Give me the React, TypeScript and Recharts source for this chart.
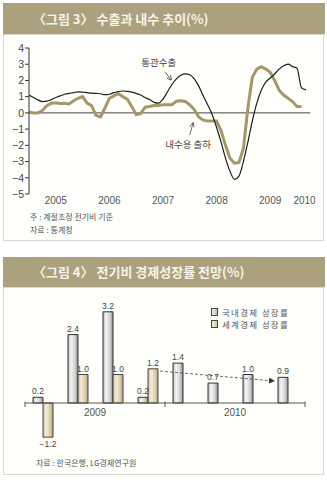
import React from 'react';
import {
  LineChart, Line, XAxis, YAxis, ReferenceLine, ReferenceDot,
  BarChart, Bar, LabelList, Legend,
} from 'recharts';

// ---------- Figure 3 data (monthly, Jan 2005 onward) ----------
const startYear = 2005;
const exportsSeries = [
  1.1, 0.95, 0.8, 0.7, 0.72, 0.82, 0.95, 1.05, 1.15, 1.2, 1.25, 1.3,
  1.28, 1.25, 1.22, 1.2, 1.18, 1.12, 1.15, 1.25, 1.32, 1.35, 1.33, 1.28,
  1.2, 1.1, 0.95, 0.82, 0.65, 0.6, 0.85, 1.3, 1.75, 2.1, 2.32, 2.4,
  2.35, 2.1, 1.65, 1.05, 0.5, -0.1, -0.9, -1.8, -2.8, -3.6, -4.1, -3.9,
  -3.0, -1.8, -0.5, 0.6, 1.4, 1.9, 2.15, 2.4, 2.7, 2.9, 3.0, 2.85,
  2.75, 1.55, 1.42,
];
const shipmentsSeries = [
  0.05, 0.0, 0.0, 0.15, 0.45, 0.6, 0.62, 0.58, 0.6, 0.55, 0.75, 0.9,
  1.0, 0.6, 0.45, -0.15, -0.25, 0.3, 0.9, 1.05, 1.2, 1.0, 0.85, 0.4,
  -0.1, -0.05, 0.35, 0.4, 0.45, 0.45, 0.5, 0.5, 0.5, 0.72, 0.75, 0.7,
  0.5, 0.2, -0.25, -0.45, -0.5, -0.5, -0.5, -1.1, -2.0, -2.8, -3.1, -3.05,
  -2.2, 0.3, 2.2, 2.7, 2.85, 2.7, 2.5, 2.0, 1.4, 1.1, 0.9, 0.7,
  0.4, 0.4,
];
const yearLabels = ['2005', '2006', '2007', '2008', '2009', '2010'];
const yearLabelPos = [2005.5, 2006.5, 2007.5, 2008.5, 2009.5, 2010.14];
const yearBounds = [2006, 2007, 2008, 2009, 2010];
const yTicks = [4, 3, 2, 1, 0, -1, -2, -3, -4, -5];

const lineData = exportsSeries.map((v, i) => ({
  t: startYear + i / 12,
  exp: v,
  dom: i < shipmentsSeries.length ? shipmentsSeries[i] : null,
}));

// ---------- Figure 4 data (quarterly) ----------
const quarters = ['2009 1Q', '2009 2Q', '2009 3Q', '2009 4Q', '2010 1Q', '2010 2Q', '2010 3Q', '2010 4Q'];
const domesticGrowth = [0.2, 2.4, 3.2, 0.2, 1.4, 0.7, 1.0, 0.9];
const worldGrowth: (number | null)[] = [-1.2, 1.0, 1.0, 1.2, null, null, null, null];
const barYears = ['2009', '2010'];
const quartersPerYear = 4;
const legendNames = ['국내경제 성장률', '세계경제 성장률'];

const barData = quarters.map((q, i) => ({
  q,
  x: i + 0.5,
  dom: domesticGrowth[i],
  world: worldGrowth[i],
}));
const yearBoundsBar = [0, 1, 2].map((k) => k * quartersPerYear);

const FONT = "'Liberation Sans', 'Noto Sans CJK KR', sans-serif";
const KFONT = "'Noto Sans CJK KR', 'Liberation Sans', sans-serif";
const minus = (v: number) => (v < 0 ? '\u2212' + Math.abs(v) : String(v));
const fmt1 = (v: number) => (v < 0 ? '\u2212' + Math.abs(v).toFixed(1) : v.toFixed(1));

const ValueLabel = (props: any) => {
  const { x, y, width, height, value } = props;
  if (value == null) return null;
  const top = Math.min(y, y + height);
  const bottom = Math.max(y, y + height);
  const neg = value < 0;
  return (
    <text x={x + width / 2} y={neg ? bottom + 10 : top - 3} textAnchor="middle"
      fontSize={8.5} fill="#444" fontFamily={FONT}>
      {fmt1(value)}
    </text>
  );
};

const renderLegend = () => (
  <div style={{ fontFamily: KFONT, fontSize: 8.5, color: '#555' }}>
    {legendNames.map((n, i) => (
      <div key={n} style={{ display: 'flex', alignItems: 'center', whiteSpace: 'nowrap', height: 12, lineHeight: '12px' }}>
        <span style={{
          display: 'inline-block', width: 5, height: 6, marginRight: 4,
          border: '1px solid #444',
          background: i === 0 ? 'linear-gradient(90deg,#f2f2f2,#bdbdbd)' : 'linear-gradient(90deg,#f5eedc,#d6c7a0)',
        }} />
        <span style={{ letterSpacing: 1.3 }}>{n}</span>
      </div>
    ))}
  </div>
);

const titleStyle = (top: number, h: number): React.CSSProperties => ({
  position: 'absolute', left: 3, top, width: 322, height: h, background: '#aba17f',
  color: '#f7f3e6', fontFamily: KFONT, fontSize: 13, fontWeight: 700,
  lineHeight: h + 'px', paddingLeft: 30, boxSizing: 'border-box',
});
const bodyStyle = (top: number, h: number, w: number): React.CSSProperties => ({
  position: 'absolute', left: 3, top, width: w, height: h, background: '#fffffb',
  border: '1px solid #d8d8cf', boxSizing: 'border-box',
});
const noteStyle = (top: number, left: number): React.CSSProperties => ({
  position: 'absolute', left, top, fontFamily: KFONT, fontSize: 8, lineHeight: '10px', color: '#555', whiteSpace: 'nowrap',
});

export default function App() {
  return (
    <div style={{ position: 'absolute', left: 0, top: 0, width: 327, height: 480, background: '#fff', overflow: 'hidden' }}>
      {/* Figure 3 */}
      <div style={bodyStyle(34, 207, 321)} />
      <div style={titleStyle(3, 31)}>〈그림 3〉 수출과 내수 추이(%)</div>
      <div style={{ position: 'absolute', left: 0, top: 0 }}>
        <LineChart width={327} height={240} data={lineData}
          margin={{ top: 48, right: 16.6, bottom: 26, left: 5 }}>
          <defs>
            <marker id="arrOpen" viewBox="0 0 8 8" refX="7" refY="4" markerWidth="5" markerHeight="5"
              orient="auto" markerUnits="userSpaceOnUse">
              <path d="M0,0 L8,4 L0,8" fill="none" stroke="#444" strokeWidth={1.2} />
            </marker>
          </defs>
          <XAxis xAxisId="a" dataKey="t" type="number" domain={[2005, 2010.25]} allowDataOverflow
            ticks={yearBounds} interval={0} tick={false} tickSize={4} height={0}
            axisLine={{ stroke: '#333' }} tickLine={{ stroke: '#333' }} />
          <XAxis xAxisId="b" dataKey="t" type="number" domain={[2005, 2010.25]} allowDataOverflow
            ticks={yearLabelPos} interval={0} axisLine={false} tickLine={false} tickSize={0}
            tickMargin={3} height={20}
            tickFormatter={(v: number) => yearLabels[yearLabelPos.indexOf(v)]}
            tick={{ fontSize: 10, fill: '#555', fontFamily: FONT }} />
          <YAxis yAxisId="y" type="number" domain={[-5, 4]} ticks={yTicks} interval={0} width={24}
            tickSize={4} tickMargin={1} tickFormatter={minus}
            tick={{ fontSize: 10.5, fill: '#444', fontFamily: FONT }}
            axisLine={{ stroke: '#333' }} tickLine={{ stroke: '#333' }} />
          <ReferenceLine xAxisId="a" yAxisId="y" y={0} stroke="#444" strokeWidth={1} />
          <Line xAxisId="a" yAxisId="y" dataKey="dom" type="linear" stroke="#a6976a" strokeWidth={3}
            dot={false} isAnimationActive={false} connectNulls={false} />
          <Line xAxisId="a" yAxisId="y" dataKey="exp" type="monotone" stroke="#1e1e1e" strokeWidth={1.2}
            dot={false} isAnimationActive={false} />
          <ReferenceDot xAxisId="a" yAxisId="y" x={2007.42} y={3.12} r={0} fill="none" stroke="none"
            label={{ value: '통관수출', position: 'center', fontSize: 9.5, fill: '#444', fontFamily: KFONT }} />
          <ReferenceDot xAxisId="a" yAxisId="y" x={2007.97} y={-1.97} r={0} fill="none" stroke="none"
            label={{ value: '내수용 출하', position: 'center', fontSize: 9.5, fill: '#444', fontFamily: KFONT }} />
          <ReferenceLine xAxisId="a" yAxisId="y" segment={[{ x: 2007.54, y: 2.53 }, { x: 2007.65, y: 2.03 }]}
            shape={(p: any) => (
              <line x1={p.x1} y1={p.y1} x2={p.x2} y2={p.y2} stroke="#444" strokeWidth={0.8} markerEnd="url(#arrOpen)" />
            )} />
          <ReferenceLine xAxisId="a" yAxisId="y" segment={[{ x: 2008.0, y: -1.36 }, { x: 2008.06, y: -0.62 }]}
            shape={(p: any) => (
              <line x1={p.x1} y1={p.y1} x2={p.x2} y2={p.y2} stroke="#444" strokeWidth={0.8} markerEnd="url(#arrOpen)" />
            )} />
        </LineChart>
      </div>
      <div style={noteStyle(212, 30)}>주 : 계절조정 전기비 기준</div>
      <div style={noteStyle(225, 30)}>자료 : 통계청</div>

      {/* Figure 4 */}
      <div style={bodyStyle(287, 188, 321)} />
      <div style={titleStyle(257, 30)}>〈그림 4〉 전기비 경제성장률 전망(%)</div>
      <div style={{ position: 'absolute', left: 0, top: 290 }}>
        <BarChart width={327} height={180} data={barData} barGap={0}
          margin={{ top: 13.25, right: 22, bottom: 24.25, left: 25 }}>
          <defs>
            <linearGradient id="gDom" x1="0" y1="0" x2="1" y2="0">
              <stop offset="0" stopColor="#b5b5b5" />
              <stop offset="0.3" stopColor="#f6f6f6" />
              <stop offset="0.7" stopColor="#d2d2d2" />
              <stop offset="1" stopColor="#8f8f8f" />
            </linearGradient>
            <linearGradient id="gWorld" x1="0" y1="0" x2="1" y2="0">
              <stop offset="0" stopColor="#cdbf98" />
              <stop offset="0.3" stopColor="#f3ecd9" />
              <stop offset="0.7" stopColor="#ddd0ae" />
              <stop offset="1" stopColor="#b3a27a" />
            </linearGradient>
            <marker id="arrFill" viewBox="0 0 8 8" refX="8" refY="4" markerWidth="6" markerHeight="6"
              orient="auto" markerUnits="userSpaceOnUse">
              <path d="M0,0 L8,4 L0,8 z" fill="#333" />
            </marker>
          </defs>
          <XAxis xAxisId="x" dataKey="x" type="number" domain={[0, 8]} hide />
          <YAxis yAxisId="y" type="number" domain={[-1.5, 3.5]} hide />
          <ReferenceLine xAxisId="x" yAxisId="y" y={0} stroke="#555" strokeWidth={1} />
          {yearBoundsBar.map((b) => (
            <ReferenceLine key={b} xAxisId="x" yAxisId="y" segment={[{ x: b, y: 0.05 }, { x: b, y: -0.14 }]}
              stroke="#555" strokeWidth={1} />
          ))}
          <Bar xAxisId="x" yAxisId="y" dataKey="dom" barSize={10} fill="url(#gDom)" stroke="#333"
            strokeWidth={1} isAnimationActive={false}>
            <LabelList dataKey="dom" content={ValueLabel} />
          </Bar>
          <Bar xAxisId="x" yAxisId="y" dataKey="world" barSize={10} fill="url(#gWorld)" stroke="#444"
            strokeWidth={1} isAnimationActive={false}>
            <LabelList dataKey="world" content={ValueLabel} />
          </Bar>
          {barYears.map((y, i) => (
            <ReferenceDot key={y} xAxisId="x" yAxisId="y" x={i * quartersPerYear + quartersPerYear / 2} y={0}
              r={0} fill="none" stroke="none"
              label={{ value: y, position: 'bottom', offset: 6, fontSize: 10, fill: '#555', fontFamily: FONT }} />
          ))}
          <ReferenceLine xAxisId="x" yAxisId="y" segment={[{ x: 3.86, y: 1.12 }, { x: 7.14, y: 0.77 }]}
            shape={(p: any) => (
              <line x1={p.x1} y1={p.y1} x2={p.x2} y2={p.y2} stroke="#444" strokeWidth={0.8}
                strokeDasharray="3 2" markerEnd="url(#arrFill)" />
            )} />
          <Legend layout="vertical" align="center" verticalAlign="middle" content={renderLegend}
            wrapperStyle={{ position: 'absolute', top: 16, left: 211, width: 110 }} />
        </BarChart>
      </div>
      <div style={noteStyle(458, 36)}>자료 : 한국은행, LG경제연구원</div>
    </div>
  );
}
